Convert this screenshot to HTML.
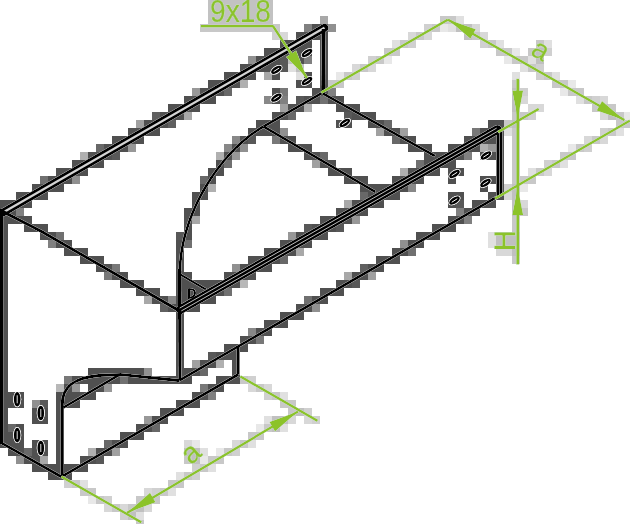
<!DOCTYPE html>
<html><head><meta charset="utf-8"><style>
html,body{margin:0;padding:0;background:#fff;width:630px;height:524px;overflow:hidden;font-family:"Liberation Sans",sans-serif}
svg{display:block}
</style></head><body><svg width="630" height="524" viewBox="0 0 630 524"><rect width="630" height="524" fill="#fff"/><defs><filter id="wo" x="-5%" y="-5%" width="110%" height="110%"><feMorphology operator="dilate" radius="0.3" in="SourceAlpha" result="d"/><feFlood flood-color="#fff"/><feComposite in2="d" operator="in"/><feMerge><feMergeNode/><feMergeNode in="SourceGraphic"/></feMerge></filter></defs><rect x="208" y="0" width="8" height="8" fill="rgb(200,200,200)"/><rect x="216" y="0" width="8" height="8" fill="rgb(192,192,192)"/><rect x="224" y="0" width="16" height="8" fill="rgb(208,208,208)"/><rect x="240" y="0" width="8" height="8" fill="rgb(192,192,192)"/><rect x="248" y="0" width="8" height="8" fill="rgb(208,208,208)"/><rect x="256" y="0" width="16" height="8" fill="rgb(192,192,192)"/><rect x="208" y="8" width="8" height="8" fill="rgb(200,200,200)"/><rect x="216" y="8" width="8" height="8" fill="rgb(192,192,192)"/><rect x="224" y="8" width="8" height="8" fill="rgb(200,200,200)"/><rect x="232" y="8" width="8" height="8" fill="rgb(192,192,192)"/><rect x="240" y="8" width="16" height="8" fill="rgb(208,208,208)"/><rect x="256" y="8" width="16" height="8" fill="rgb(192,192,192)"/><rect x="208" y="16" width="8" height="8" fill="rgb(208,208,208)"/><rect x="216" y="16" width="8" height="8" fill="rgb(192,192,192)"/><rect x="224" y="16" width="24" height="8" fill="rgb(200,200,200)"/><rect x="248" y="16" width="16" height="8" fill="rgb(192,192,192)"/><rect x="264" y="16" width="8" height="8" fill="rgb(200,200,200)"/><rect x="320" y="16" width="8" height="8" fill="rgb(168,168,168)"/><rect x="440" y="16" width="16" height="8" fill="rgb(200,200,200)"/><rect x="456" y="16" width="8" height="8" fill="rgb(224,224,224)"/><rect x="200" y="24" width="80" height="8" fill="rgb(200,200,200)"/><rect x="304" y="24" width="8" height="8" fill="rgb(128,128,128)"/><rect x="312" y="24" width="16" height="8" fill="rgb(80,80,80)"/><rect x="328" y="24" width="8" height="8" fill="rgb(144,144,144)"/><rect x="424" y="24" width="8" height="8" fill="rgb(208,208,208)"/><rect x="432" y="24" width="8" height="8" fill="rgb(200,200,200)"/><rect x="440" y="24" width="8" height="8" fill="rgb(232,232,232)"/><rect x="448" y="24" width="8" height="8" fill="rgb(224,224,224)"/><rect x="456" y="24" width="16" height="8" fill="rgb(192,192,192)"/><rect x="472" y="24" width="8" height="8" fill="rgb(216,216,216)"/><rect x="272" y="32" width="8" height="8" fill="rgb(208,208,208)"/><rect x="280" y="32" width="8" height="8" fill="rgb(216,216,216)"/><rect x="296" y="32" width="32" height="8" fill="rgb(80,80,80)"/><rect x="408" y="32" width="8" height="8" fill="rgb(216,216,216)"/><rect x="416" y="32" width="8" height="8" fill="rgb(200,200,200)"/><rect x="424" y="32" width="8" height="8" fill="rgb(216,216,216)"/><rect x="464" y="32" width="8" height="8" fill="rgb(192,192,192)"/><rect x="472" y="32" width="8" height="8" fill="rgb(200,200,200)"/><rect x="480" y="32" width="8" height="8" fill="rgb(216,216,216)"/><rect x="280" y="40" width="32" height="8" fill="rgb(80,80,80)"/><rect x="320" y="40" width="8" height="8" fill="rgb(80,80,80)"/><rect x="392" y="40" width="8" height="8" fill="rgb(224,224,224)"/><rect x="400" y="40" width="8" height="8" fill="rgb(200,200,200)"/><rect x="408" y="40" width="8" height="8" fill="rgb(208,208,208)"/><rect x="480" y="40" width="8" height="8" fill="rgb(208,208,208)"/><rect x="488" y="40" width="8" height="8" fill="rgb(200,200,200)"/><rect x="496" y="40" width="8" height="8" fill="rgb(224,224,224)"/><rect x="536" y="40" width="8" height="8" fill="rgb(200,200,200)"/><rect x="544" y="40" width="8" height="8" fill="rgb(224,224,224)"/><rect x="264" y="48" width="48" height="8" fill="rgb(80,80,80)"/><rect x="320" y="48" width="8" height="8" fill="rgb(80,80,80)"/><rect x="384" y="48" width="16" height="8" fill="rgb(200,200,200)"/><rect x="496" y="48" width="16" height="8" fill="rgb(200,200,200)"/><rect x="512" y="48" width="8" height="8" fill="rgb(232,232,232)"/><rect x="528" y="48" width="8" height="8" fill="rgb(200,200,200)"/><rect x="536" y="48" width="8" height="8" fill="rgb(192,192,192)"/><rect x="544" y="48" width="8" height="8" fill="rgb(208,208,208)"/><rect x="248" y="56" width="8" height="8" fill="rgb(144,144,144)"/><rect x="256" y="56" width="24" height="8" fill="rgb(80,80,80)"/><rect x="280" y="56" width="8" height="8" fill="rgb(88,88,88)"/><rect x="288" y="56" width="8" height="8" fill="rgb(192,192,192)"/><rect x="296" y="56" width="8" height="8" fill="rgb(80,80,80)"/><rect x="304" y="56" width="8" height="8" fill="rgb(128,128,128)"/><rect x="320" y="56" width="8" height="8" fill="rgb(80,80,80)"/><rect x="368" y="56" width="8" height="8" fill="rgb(208,208,208)"/><rect x="376" y="56" width="8" height="8" fill="rgb(200,200,200)"/><rect x="384" y="56" width="8" height="8" fill="rgb(232,232,232)"/><rect x="504" y="56" width="8" height="8" fill="rgb(232,232,232)"/><rect x="512" y="56" width="16" height="8" fill="rgb(200,200,200)"/><rect x="528" y="56" width="8" height="8" fill="rgb(224,224,224)"/><rect x="536" y="56" width="8" height="8" fill="rgb(192,192,192)"/><rect x="240" y="64" width="40" height="8" fill="rgb(80,80,80)"/><rect x="280" y="64" width="8" height="8" fill="rgb(88,88,88)"/><rect x="288" y="64" width="8" height="8" fill="rgb(224,224,224)"/><rect x="296" y="64" width="8" height="8" fill="rgb(192,192,192)"/><rect x="320" y="64" width="8" height="8" fill="rgb(80,80,80)"/><rect x="352" y="64" width="8" height="8" fill="rgb(216,216,216)"/><rect x="360" y="64" width="8" height="8" fill="rgb(200,200,200)"/><rect x="368" y="64" width="8" height="8" fill="rgb(216,216,216)"/><rect x="520" y="64" width="8" height="8" fill="rgb(224,224,224)"/><rect x="528" y="64" width="8" height="8" fill="rgb(200,200,200)"/><rect x="536" y="64" width="8" height="8" fill="rgb(208,208,208)"/><rect x="224" y="72" width="32" height="8" fill="rgb(80,80,80)"/><rect x="264" y="72" width="8" height="8" fill="rgb(168,168,168)"/><rect x="272" y="72" width="8" height="8" fill="rgb(80,80,80)"/><rect x="296" y="72" width="8" height="8" fill="rgb(224,224,224)"/><rect x="304" y="72" width="8" height="8" fill="rgb(80,80,80)"/><rect x="320" y="72" width="8" height="8" fill="rgb(80,80,80)"/><rect x="336" y="72" width="8" height="8" fill="rgb(232,232,232)"/><rect x="344" y="72" width="8" height="8" fill="rgb(200,200,200)"/><rect x="352" y="72" width="8" height="8" fill="rgb(208,208,208)"/><rect x="512" y="72" width="8" height="8" fill="rgb(224,224,224)"/><rect x="536" y="72" width="8" height="8" fill="rgb(208,208,208)"/><rect x="544" y="72" width="8" height="8" fill="rgb(200,200,200)"/><rect x="552" y="72" width="8" height="8" fill="rgb(224,224,224)"/><rect x="208" y="80" width="32" height="8" fill="rgb(80,80,80)"/><rect x="240" y="80" width="8" height="8" fill="rgb(176,176,176)"/><rect x="296" y="80" width="16" height="8" fill="rgb(80,80,80)"/><rect x="320" y="80" width="8" height="8" fill="rgb(80,80,80)"/><rect x="328" y="80" width="16" height="8" fill="rgb(200,200,200)"/><rect x="512" y="80" width="8" height="8" fill="rgb(200,200,200)"/><rect x="552" y="80" width="16" height="8" fill="rgb(200,200,200)"/><rect x="568" y="80" width="8" height="8" fill="rgb(232,232,232)"/><rect x="192" y="88" width="8" height="8" fill="rgb(152,152,152)"/><rect x="200" y="88" width="24" height="8" fill="rgb(80,80,80)"/><rect x="224" y="88" width="8" height="8" fill="rgb(104,104,104)"/><rect x="272" y="88" width="8" height="8" fill="rgb(80,80,80)"/><rect x="280" y="88" width="8" height="8" fill="rgb(120,120,120)"/><rect x="312" y="88" width="16" height="8" fill="rgb(80,80,80)"/><rect x="328" y="88" width="8" height="8" fill="rgb(128,128,128)"/><rect x="512" y="88" width="8" height="8" fill="rgb(192,192,192)"/><rect x="520" y="88" width="8" height="8" fill="rgb(208,208,208)"/><rect x="560" y="88" width="8" height="8" fill="rgb(232,232,232)"/><rect x="568" y="88" width="16" height="8" fill="rgb(200,200,200)"/><rect x="184" y="96" width="32" height="8" fill="rgb(80,80,80)"/><rect x="264" y="96" width="8" height="8" fill="rgb(136,136,136)"/><rect x="272" y="96" width="8" height="8" fill="rgb(80,80,80)"/><rect x="280" y="96" width="8" height="8" fill="rgb(128,128,128)"/><rect x="296" y="96" width="8" height="8" fill="rgb(88,88,88)"/><rect x="304" y="96" width="16" height="8" fill="rgb(80,80,80)"/><rect x="320" y="96" width="8" height="8" fill="rgb(112,112,112)"/><rect x="328" y="96" width="16" height="8" fill="rgb(80,80,80)"/><rect x="512" y="96" width="8" height="8" fill="rgb(192,192,192)"/><rect x="520" y="96" width="8" height="8" fill="rgb(216,216,216)"/><rect x="576" y="96" width="8" height="8" fill="rgb(224,224,224)"/><rect x="584" y="96" width="8" height="8" fill="rgb(200,200,200)"/><rect x="592" y="96" width="8" height="8" fill="rgb(208,208,208)"/><rect x="600" y="96" width="8" height="8" fill="rgb(216,216,216)"/><rect x="168" y="104" width="32" height="8" fill="rgb(80,80,80)"/><rect x="280" y="104" width="8" height="8" fill="rgb(160,160,160)"/><rect x="288" y="104" width="16" height="8" fill="rgb(80,80,80)"/><rect x="304" y="104" width="8" height="8" fill="rgb(176,176,176)"/><rect x="336" y="104" width="24" height="8" fill="rgb(80,80,80)"/><rect x="512" y="104" width="8" height="8" fill="rgb(192,192,192)"/><rect x="528" y="104" width="16" height="8" fill="rgb(216,216,216)"/><rect x="592" y="104" width="8" height="8" fill="rgb(200,200,200)"/><rect x="600" y="104" width="8" height="8" fill="rgb(192,192,192)"/><rect x="608" y="104" width="8" height="8" fill="rgb(200,200,200)"/><rect x="152" y="112" width="8" height="8" fill="rgb(96,96,96)"/><rect x="160" y="112" width="24" height="8" fill="rgb(80,80,80)"/><rect x="184" y="112" width="8" height="8" fill="rgb(168,168,168)"/><rect x="272" y="112" width="16" height="8" fill="rgb(80,80,80)"/><rect x="288" y="112" width="8" height="8" fill="rgb(104,104,104)"/><rect x="344" y="112" width="8" height="8" fill="rgb(88,88,88)"/><rect x="352" y="112" width="24" height="8" fill="rgb(80,80,80)"/><rect x="512" y="112" width="16" height="8" fill="rgb(200,200,200)"/><rect x="528" y="112" width="8" height="8" fill="rgb(208,208,208)"/><rect x="600" y="112" width="8" height="8" fill="rgb(216,216,216)"/><rect x="608" y="112" width="8" height="8" fill="rgb(192,192,192)"/><rect x="616" y="112" width="8" height="8" fill="rgb(200,200,200)"/><rect x="624" y="112" width="8" height="8" fill="rgb(232,232,232)"/><rect x="136" y="120" width="8" height="8" fill="rgb(160,160,160)"/><rect x="144" y="120" width="24" height="8" fill="rgb(80,80,80)"/><rect x="168" y="120" width="8" height="8" fill="rgb(96,96,96)"/><rect x="256" y="120" width="24" height="8" fill="rgb(80,80,80)"/><rect x="336" y="120" width="16" height="8" fill="rgb(80,80,80)"/><rect x="368" y="120" width="16" height="8" fill="rgb(80,80,80)"/><rect x="384" y="120" width="8" height="8" fill="rgb(104,104,104)"/><rect x="488" y="120" width="16" height="8" fill="rgb(80,80,80)"/><rect x="504" y="120" width="8" height="8" fill="rgb(200,200,200)"/><rect x="512" y="120" width="8" height="8" fill="rgb(192,192,192)"/><rect x="616" y="120" width="16" height="8" fill="rgb(200,200,200)"/><rect x="128" y="128" width="32" height="8" fill="rgb(80,80,80)"/><rect x="248" y="128" width="32" height="8" fill="rgb(80,80,80)"/><rect x="280" y="128" width="8" height="8" fill="rgb(144,144,144)"/><rect x="376" y="128" width="8" height="8" fill="rgb(160,160,160)"/><rect x="384" y="128" width="16" height="8" fill="rgb(80,80,80)"/><rect x="400" y="128" width="8" height="8" fill="rgb(160,160,160)"/><rect x="472" y="128" width="8" height="8" fill="rgb(120,120,120)"/><rect x="480" y="128" width="24" height="8" fill="rgb(80,80,80)"/><rect x="504" y="128" width="8" height="8" fill="rgb(224,224,224)"/><rect x="512" y="128" width="8" height="8" fill="rgb(200,200,200)"/><rect x="600" y="128" width="8" height="8" fill="rgb(208,208,208)"/><rect x="608" y="128" width="8" height="8" fill="rgb(200,200,200)"/><rect x="616" y="128" width="8" height="8" fill="rgb(224,224,224)"/><rect x="112" y="136" width="32" height="8" fill="rgb(80,80,80)"/><rect x="232" y="136" width="8" height="8" fill="rgb(136,136,136)"/><rect x="240" y="136" width="8" height="8" fill="rgb(80,80,80)"/><rect x="248" y="136" width="8" height="8" fill="rgb(88,88,88)"/><rect x="272" y="136" width="8" height="8" fill="rgb(120,120,120)"/><rect x="280" y="136" width="16" height="8" fill="rgb(80,80,80)"/><rect x="392" y="136" width="8" height="8" fill="rgb(104,104,104)"/><rect x="400" y="136" width="16" height="8" fill="rgb(80,80,80)"/><rect x="464" y="136" width="40" height="8" fill="rgb(80,80,80)"/><rect x="512" y="136" width="8" height="8" fill="rgb(200,200,200)"/><rect x="584" y="136" width="8" height="8" fill="rgb(216,216,216)"/><rect x="592" y="136" width="8" height="8" fill="rgb(200,200,200)"/><rect x="600" y="136" width="8" height="8" fill="rgb(216,216,216)"/><rect x="96" y="144" width="8" height="8" fill="rgb(104,104,104)"/><rect x="104" y="144" width="24" height="8" fill="rgb(80,80,80)"/><rect x="128" y="144" width="8" height="8" fill="rgb(152,152,152)"/><rect x="224" y="144" width="8" height="8" fill="rgb(136,136,136)"/><rect x="232" y="144" width="8" height="8" fill="rgb(80,80,80)"/><rect x="240" y="144" width="8" height="8" fill="rgb(144,144,144)"/><rect x="288" y="144" width="24" height="8" fill="rgb(80,80,80)"/><rect x="408" y="144" width="24" height="8" fill="rgb(80,80,80)"/><rect x="448" y="144" width="32" height="8" fill="rgb(80,80,80)"/><rect x="480" y="144" width="8" height="8" fill="rgb(176,176,176)"/><rect x="488" y="144" width="8" height="8" fill="rgb(152,152,152)"/><rect x="496" y="144" width="8" height="8" fill="rgb(80,80,80)"/><rect x="512" y="144" width="8" height="8" fill="rgb(200,200,200)"/><rect x="568" y="144" width="8" height="8" fill="rgb(232,232,232)"/><rect x="576" y="144" width="8" height="8" fill="rgb(200,200,200)"/><rect x="584" y="144" width="8" height="8" fill="rgb(208,208,208)"/><rect x="80" y="152" width="8" height="8" fill="rgb(176,176,176)"/><rect x="88" y="152" width="24" height="8" fill="rgb(80,80,80)"/><rect x="112" y="152" width="8" height="8" fill="rgb(88,88,88)"/><rect x="216" y="152" width="8" height="8" fill="rgb(176,176,176)"/><rect x="224" y="152" width="8" height="8" fill="rgb(80,80,80)"/><rect x="232" y="152" width="8" height="8" fill="rgb(152,152,152)"/><rect x="304" y="152" width="16" height="8" fill="rgb(80,80,80)"/><rect x="320" y="152" width="8" height="8" fill="rgb(104,104,104)"/><rect x="424" y="152" width="40" height="8" fill="rgb(80,80,80)"/><rect x="464" y="152" width="8" height="8" fill="rgb(128,128,128)"/><rect x="480" y="152" width="24" height="8" fill="rgb(80,80,80)"/><rect x="512" y="152" width="8" height="8" fill="rgb(200,200,200)"/><rect x="560" y="152" width="16" height="8" fill="rgb(200,200,200)"/><rect x="72" y="160" width="32" height="8" fill="rgb(80,80,80)"/><rect x="216" y="160" width="8" height="8" fill="rgb(80,80,80)"/><rect x="224" y="160" width="8" height="8" fill="rgb(112,112,112)"/><rect x="312" y="160" width="8" height="8" fill="rgb(160,160,160)"/><rect x="320" y="160" width="16" height="8" fill="rgb(80,80,80)"/><rect x="416" y="160" width="8" height="8" fill="rgb(112,112,112)"/><rect x="424" y="160" width="32" height="8" fill="rgb(80,80,80)"/><rect x="496" y="160" width="8" height="8" fill="rgb(80,80,80)"/><rect x="512" y="160" width="8" height="8" fill="rgb(200,200,200)"/><rect x="544" y="160" width="8" height="8" fill="rgb(208,208,208)"/><rect x="552" y="160" width="8" height="8" fill="rgb(200,200,200)"/><rect x="560" y="160" width="8" height="8" fill="rgb(224,224,224)"/><rect x="56" y="168" width="32" height="8" fill="rgb(80,80,80)"/><rect x="208" y="168" width="16" height="8" fill="rgb(80,80,80)"/><rect x="328" y="168" width="24" height="8" fill="rgb(80,80,80)"/><rect x="400" y="168" width="8" height="8" fill="rgb(176,176,176)"/><rect x="408" y="168" width="32" height="8" fill="rgb(80,80,80)"/><rect x="448" y="168" width="16" height="8" fill="rgb(80,80,80)"/><rect x="496" y="168" width="8" height="8" fill="rgb(80,80,80)"/><rect x="512" y="168" width="8" height="8" fill="rgb(200,200,200)"/><rect x="528" y="168" width="8" height="8" fill="rgb(224,224,224)"/><rect x="536" y="168" width="8" height="8" fill="rgb(200,200,200)"/><rect x="544" y="168" width="8" height="8" fill="rgb(216,216,216)"/><rect x="40" y="176" width="8" height="8" fill="rgb(112,112,112)"/><rect x="48" y="176" width="24" height="8" fill="rgb(80,80,80)"/><rect x="72" y="176" width="8" height="8" fill="rgb(144,144,144)"/><rect x="200" y="176" width="8" height="8" fill="rgb(104,104,104)"/><rect x="208" y="176" width="8" height="8" fill="rgb(80,80,80)"/><rect x="344" y="176" width="24" height="8" fill="rgb(80,80,80)"/><rect x="392" y="176" width="32" height="8" fill="rgb(80,80,80)"/><rect x="448" y="176" width="8" height="8" fill="rgb(80,80,80)"/><rect x="480" y="176" width="24" height="8" fill="rgb(80,80,80)"/><rect x="512" y="176" width="24" height="8" fill="rgb(200,200,200)"/><rect x="32" y="184" width="32" height="8" fill="rgb(80,80,80)"/><rect x="200" y="184" width="8" height="8" fill="rgb(80,80,80)"/><rect x="208" y="184" width="8" height="8" fill="rgb(176,176,176)"/><rect x="360" y="184" width="48" height="8" fill="rgb(80,80,80)"/><rect x="408" y="184" width="8" height="8" fill="rgb(136,136,136)"/><rect x="480" y="184" width="8" height="8" fill="rgb(80,80,80)"/><rect x="496" y="184" width="8" height="8" fill="rgb(80,80,80)"/><rect x="504" y="184" width="8" height="8" fill="rgb(208,208,208)"/><rect x="512" y="184" width="8" height="8" fill="rgb(192,192,192)"/><rect x="520" y="184" width="8" height="8" fill="rgb(232,232,232)"/><rect x="16" y="192" width="32" height="8" fill="rgb(80,80,80)"/><rect x="192" y="192" width="16" height="8" fill="rgb(80,80,80)"/><rect x="360" y="192" width="8" height="8" fill="rgb(104,104,104)"/><rect x="368" y="192" width="32" height="8" fill="rgb(80,80,80)"/><rect x="448" y="192" width="16" height="8" fill="rgb(80,80,80)"/><rect x="488" y="192" width="16" height="8" fill="rgb(80,80,80)"/><rect x="504" y="192" width="8" height="8" fill="rgb(216,216,216)"/><rect x="512" y="192" width="8" height="8" fill="rgb(192,192,192)"/><rect x="0" y="200" width="32" height="8" fill="rgb(80,80,80)"/><rect x="192" y="200" width="8" height="8" fill="rgb(80,80,80)"/><rect x="344" y="200" width="8" height="8" fill="rgb(168,168,168)"/><rect x="352" y="200" width="32" height="8" fill="rgb(80,80,80)"/><rect x="448" y="200" width="8" height="8" fill="rgb(80,80,80)"/><rect x="456" y="200" width="8" height="8" fill="rgb(88,88,88)"/><rect x="472" y="200" width="24" height="8" fill="rgb(80,80,80)"/><rect x="512" y="200" width="8" height="8" fill="rgb(192,192,192)"/><rect x="520" y="200" width="8" height="8" fill="rgb(216,216,216)"/><rect x="0" y="208" width="16" height="8" fill="rgb(80,80,80)"/><rect x="16" y="208" width="8" height="8" fill="rgb(128,128,128)"/><rect x="184" y="208" width="16" height="8" fill="rgb(80,80,80)"/><rect x="336" y="208" width="32" height="8" fill="rgb(80,80,80)"/><rect x="456" y="208" width="8" height="8" fill="rgb(128,128,128)"/><rect x="464" y="208" width="16" height="8" fill="rgb(80,80,80)"/><rect x="512" y="208" width="8" height="8" fill="rgb(192,192,192)"/><rect x="520" y="208" width="8" height="8" fill="rgb(200,200,200)"/><rect x="0" y="216" width="32" height="8" fill="rgb(80,80,80)"/><rect x="184" y="216" width="8" height="8" fill="rgb(80,80,80)"/><rect x="192" y="216" width="8" height="8" fill="rgb(168,168,168)"/><rect x="320" y="216" width="32" height="8" fill="rgb(80,80,80)"/><rect x="352" y="216" width="8" height="8" fill="rgb(152,152,152)"/><rect x="448" y="216" width="16" height="8" fill="rgb(80,80,80)"/><rect x="464" y="216" width="8" height="8" fill="rgb(128,128,128)"/><rect x="512" y="216" width="8" height="8" fill="rgb(200,200,200)"/><rect x="0" y="224" width="8" height="8" fill="rgb(80,80,80)"/><rect x="24" y="224" width="24" height="8" fill="rgb(80,80,80)"/><rect x="184" y="224" width="8" height="8" fill="rgb(80,80,80)"/><rect x="304" y="224" width="8" height="8" fill="rgb(88,88,88)"/><rect x="312" y="224" width="24" height="8" fill="rgb(80,80,80)"/><rect x="336" y="224" width="8" height="8" fill="rgb(88,88,88)"/><rect x="432" y="224" width="24" height="8" fill="rgb(80,80,80)"/><rect x="512" y="224" width="8" height="8" fill="rgb(200,200,200)"/><rect x="0" y="232" width="8" height="8" fill="rgb(80,80,80)"/><rect x="40" y="232" width="16" height="8" fill="rgb(80,80,80)"/><rect x="56" y="232" width="8" height="8" fill="rgb(112,112,112)"/><rect x="176" y="232" width="8" height="8" fill="rgb(88,88,88)"/><rect x="184" y="232" width="8" height="8" fill="rgb(80,80,80)"/><rect x="288" y="232" width="8" height="8" fill="rgb(152,152,152)"/><rect x="296" y="232" width="32" height="8" fill="rgb(80,80,80)"/><rect x="416" y="232" width="24" height="8" fill="rgb(80,80,80)"/><rect x="488" y="232" width="8" height="8" fill="rgb(224,224,224)"/><rect x="496" y="232" width="24" height="8" fill="rgb(192,192,192)"/><rect x="0" y="240" width="8" height="8" fill="rgb(80,80,80)"/><rect x="48" y="240" width="8" height="8" fill="rgb(128,128,128)"/><rect x="56" y="240" width="16" height="8" fill="rgb(80,80,80)"/><rect x="176" y="240" width="8" height="8" fill="rgb(80,80,80)"/><rect x="184" y="240" width="8" height="8" fill="rgb(112,112,112)"/><rect x="280" y="240" width="32" height="8" fill="rgb(80,80,80)"/><rect x="400" y="240" width="8" height="8" fill="rgb(144,144,144)"/><rect x="408" y="240" width="16" height="8" fill="rgb(80,80,80)"/><rect x="488" y="240" width="8" height="8" fill="rgb(224,224,224)"/><rect x="496" y="240" width="24" height="8" fill="rgb(192,192,192)"/><rect x="0" y="248" width="8" height="8" fill="rgb(80,80,80)"/><rect x="64" y="248" width="24" height="8" fill="rgb(80,80,80)"/><rect x="176" y="248" width="8" height="8" fill="rgb(80,80,80)"/><rect x="264" y="248" width="32" height="8" fill="rgb(80,80,80)"/><rect x="296" y="248" width="8" height="8" fill="rgb(168,168,168)"/><rect x="392" y="248" width="16" height="8" fill="rgb(80,80,80)"/><rect x="408" y="248" width="8" height="8" fill="rgb(112,112,112)"/><rect x="496" y="248" width="16" height="8" fill="rgb(216,216,216)"/><rect x="512" y="248" width="8" height="8" fill="rgb(192,192,192)"/><rect x="0" y="256" width="8" height="8" fill="rgb(80,80,80)"/><rect x="80" y="256" width="24" height="8" fill="rgb(80,80,80)"/><rect x="176" y="256" width="8" height="8" fill="rgb(80,80,80)"/><rect x="248" y="256" width="32" height="8" fill="rgb(80,80,80)"/><rect x="280" y="256" width="8" height="8" fill="rgb(104,104,104)"/><rect x="376" y="256" width="24" height="8" fill="rgb(80,80,80)"/><rect x="512" y="256" width="8" height="8" fill="rgb(200,200,200)"/><rect x="0" y="264" width="8" height="8" fill="rgb(80,80,80)"/><rect x="96" y="264" width="16" height="8" fill="rgb(80,80,80)"/><rect x="112" y="264" width="8" height="8" fill="rgb(120,120,120)"/><rect x="176" y="264" width="8" height="8" fill="rgb(80,80,80)"/><rect x="232" y="264" width="8" height="8" fill="rgb(144,144,144)"/><rect x="240" y="264" width="32" height="8" fill="rgb(80,80,80)"/><rect x="360" y="264" width="8" height="8" fill="rgb(96,96,96)"/><rect x="368" y="264" width="16" height="8" fill="rgb(80,80,80)"/><rect x="0" y="272" width="8" height="8" fill="rgb(80,80,80)"/><rect x="104" y="272" width="8" height="8" fill="rgb(120,120,120)"/><rect x="112" y="272" width="16" height="8" fill="rgb(80,80,80)"/><rect x="176" y="272" width="16" height="8" fill="rgb(80,80,80)"/><rect x="224" y="272" width="32" height="8" fill="rgb(80,80,80)"/><rect x="344" y="272" width="8" height="8" fill="rgb(168,168,168)"/><rect x="352" y="272" width="16" height="8" fill="rgb(80,80,80)"/><rect x="368" y="272" width="8" height="8" fill="rgb(160,160,160)"/><rect x="0" y="280" width="8" height="8" fill="rgb(80,80,80)"/><rect x="120" y="280" width="24" height="8" fill="rgb(80,80,80)"/><rect x="176" y="280" width="64" height="8" fill="rgb(80,80,80)"/><rect x="240" y="280" width="8" height="8" fill="rgb(184,184,184)"/><rect x="336" y="280" width="16" height="8" fill="rgb(80,80,80)"/><rect x="352" y="280" width="8" height="8" fill="rgb(88,88,88)"/><rect x="0" y="288" width="8" height="8" fill="rgb(80,80,80)"/><rect x="136" y="288" width="24" height="8" fill="rgb(80,80,80)"/><rect x="176" y="288" width="48" height="8" fill="rgb(80,80,80)"/><rect x="224" y="288" width="8" height="8" fill="rgb(112,112,112)"/><rect x="320" y="288" width="24" height="8" fill="rgb(80,80,80)"/><rect x="0" y="296" width="8" height="8" fill="rgb(80,80,80)"/><rect x="144" y="296" width="8" height="8" fill="rgb(168,168,168)"/><rect x="152" y="296" width="16" height="8" fill="rgb(80,80,80)"/><rect x="168" y="296" width="8" height="8" fill="rgb(136,136,136)"/><rect x="176" y="296" width="40" height="8" fill="rgb(80,80,80)"/><rect x="304" y="296" width="8" height="8" fill="rgb(112,112,112)"/><rect x="312" y="296" width="16" height="8" fill="rgb(80,80,80)"/><rect x="0" y="304" width="8" height="8" fill="rgb(80,80,80)"/><rect x="160" y="304" width="8" height="8" fill="rgb(96,96,96)"/><rect x="168" y="304" width="32" height="8" fill="rgb(80,80,80)"/><rect x="296" y="304" width="16" height="8" fill="rgb(80,80,80)"/><rect x="312" y="304" width="8" height="8" fill="rgb(144,144,144)"/><rect x="0" y="312" width="8" height="8" fill="rgb(80,80,80)"/><rect x="176" y="312" width="8" height="8" fill="rgb(80,80,80)"/><rect x="280" y="312" width="24" height="8" fill="rgb(80,80,80)"/><rect x="0" y="320" width="8" height="8" fill="rgb(80,80,80)"/><rect x="176" y="320" width="8" height="8" fill="rgb(80,80,80)"/><rect x="264" y="320" width="24" height="8" fill="rgb(80,80,80)"/><rect x="0" y="328" width="8" height="8" fill="rgb(80,80,80)"/><rect x="176" y="328" width="8" height="8" fill="rgb(80,80,80)"/><rect x="248" y="328" width="8" height="8" fill="rgb(136,136,136)"/><rect x="256" y="328" width="16" height="8" fill="rgb(80,80,80)"/><rect x="0" y="336" width="8" height="8" fill="rgb(80,80,80)"/><rect x="176" y="336" width="8" height="8" fill="rgb(80,80,80)"/><rect x="240" y="336" width="16" height="8" fill="rgb(80,80,80)"/><rect x="256" y="336" width="8" height="8" fill="rgb(120,120,120)"/><rect x="0" y="344" width="8" height="8" fill="rgb(80,80,80)"/><rect x="176" y="344" width="8" height="8" fill="rgb(80,80,80)"/><rect x="224" y="344" width="24" height="8" fill="rgb(80,80,80)"/><rect x="0" y="352" width="8" height="8" fill="rgb(80,80,80)"/><rect x="176" y="352" width="8" height="8" fill="rgb(80,80,80)"/><rect x="208" y="352" width="8" height="8" fill="rgb(88,88,88)"/><rect x="216" y="352" width="24" height="8" fill="rgb(80,80,80)"/><rect x="0" y="360" width="8" height="8" fill="rgb(80,80,80)"/><rect x="176" y="360" width="8" height="8" fill="rgb(80,80,80)"/><rect x="192" y="360" width="8" height="8" fill="rgb(160,160,160)"/><rect x="200" y="360" width="16" height="8" fill="rgb(80,80,80)"/><rect x="216" y="360" width="8" height="8" fill="rgb(176,176,176)"/><rect x="232" y="360" width="8" height="8" fill="rgb(80,80,80)"/><rect x="0" y="368" width="8" height="8" fill="rgb(80,80,80)"/><rect x="88" y="368" width="56" height="8" fill="rgb(80,80,80)"/><rect x="144" y="368" width="8" height="8" fill="rgb(144,144,144)"/><rect x="176" y="368" width="24" height="8" fill="rgb(80,80,80)"/><rect x="200" y="368" width="8" height="8" fill="rgb(104,104,104)"/><rect x="232" y="368" width="8" height="8" fill="rgb(80,80,80)"/><rect x="0" y="376" width="8" height="8" fill="rgb(80,80,80)"/><rect x="64" y="376" width="8" height="8" fill="rgb(120,120,120)"/><rect x="72" y="376" width="48" height="8" fill="rgb(80,80,80)"/><rect x="120" y="376" width="8" height="8" fill="rgb(112,112,112)"/><rect x="128" y="376" width="64" height="8" fill="rgb(80,80,80)"/><rect x="216" y="376" width="24" height="8" fill="rgb(80,80,80)"/><rect x="240" y="376" width="8" height="8" fill="rgb(200,200,200)"/><rect x="248" y="376" width="8" height="8" fill="rgb(208,208,208)"/><rect x="0" y="384" width="8" height="8" fill="rgb(80,80,80)"/><rect x="56" y="384" width="8" height="8" fill="rgb(184,184,184)"/><rect x="64" y="384" width="8" height="8" fill="rgb(80,80,80)"/><rect x="72" y="384" width="8" height="8" fill="rgb(152,152,152)"/><rect x="88" y="384" width="16" height="8" fill="rgb(80,80,80)"/><rect x="104" y="384" width="8" height="8" fill="rgb(152,152,152)"/><rect x="200" y="384" width="8" height="8" fill="rgb(120,120,120)"/><rect x="208" y="384" width="16" height="8" fill="rgb(80,80,80)"/><rect x="248" y="384" width="8" height="8" fill="rgb(216,216,216)"/><rect x="256" y="384" width="8" height="8" fill="rgb(200,200,200)"/><rect x="264" y="384" width="8" height="8" fill="rgb(216,216,216)"/><rect x="0" y="392" width="24" height="8" fill="rgb(80,80,80)"/><rect x="56" y="392" width="40" height="8" fill="rgb(80,80,80)"/><rect x="192" y="392" width="16" height="8" fill="rgb(80,80,80)"/><rect x="208" y="392" width="8" height="8" fill="rgb(128,128,128)"/><rect x="264" y="392" width="8" height="8" fill="rgb(208,208,208)"/><rect x="272" y="392" width="8" height="8" fill="rgb(200,200,200)"/><rect x="280" y="392" width="8" height="8" fill="rgb(224,224,224)"/><rect x="0" y="400" width="24" height="8" fill="rgb(80,80,80)"/><rect x="32" y="400" width="8" height="8" fill="rgb(144,144,144)"/><rect x="40" y="400" width="8" height="8" fill="rgb(88,88,88)"/><rect x="56" y="400" width="24" height="8" fill="rgb(80,80,80)"/><rect x="176" y="400" width="24" height="8" fill="rgb(80,80,80)"/><rect x="280" y="400" width="16" height="8" fill="rgb(200,200,200)"/><rect x="0" y="408" width="8" height="8" fill="rgb(80,80,80)"/><rect x="32" y="408" width="16" height="8" fill="rgb(80,80,80)"/><rect x="56" y="408" width="8" height="8" fill="rgb(80,80,80)"/><rect x="160" y="408" width="24" height="8" fill="rgb(80,80,80)"/><rect x="288" y="408" width="8" height="8" fill="rgb(200,200,200)"/><rect x="296" y="408" width="8" height="8" fill="rgb(192,192,192)"/><rect x="304" y="408" width="8" height="8" fill="rgb(208,208,208)"/><rect x="0" y="416" width="8" height="8" fill="rgb(80,80,80)"/><rect x="32" y="416" width="16" height="8" fill="rgb(80,80,80)"/><rect x="56" y="416" width="8" height="8" fill="rgb(80,80,80)"/><rect x="144" y="416" width="8" height="8" fill="rgb(152,152,152)"/><rect x="152" y="416" width="16" height="8" fill="rgb(80,80,80)"/><rect x="264" y="416" width="8" height="8" fill="rgb(224,224,224)"/><rect x="272" y="416" width="16" height="8" fill="rgb(192,192,192)"/><rect x="288" y="416" width="8" height="8" fill="rgb(216,216,216)"/><rect x="304" y="416" width="8" height="8" fill="rgb(216,216,216)"/><rect x="312" y="416" width="8" height="8" fill="rgb(208,208,208)"/><rect x="0" y="424" width="8" height="8" fill="rgb(80,80,80)"/><rect x="8" y="424" width="8" height="8" fill="rgb(104,104,104)"/><rect x="16" y="424" width="8" height="8" fill="rgb(80,80,80)"/><rect x="56" y="424" width="8" height="8" fill="rgb(80,80,80)"/><rect x="136" y="424" width="16" height="8" fill="rgb(80,80,80)"/><rect x="152" y="424" width="8" height="8" fill="rgb(104,104,104)"/><rect x="256" y="424" width="8" height="8" fill="rgb(232,232,232)"/><rect x="264" y="424" width="8" height="8" fill="rgb(200,200,200)"/><rect x="272" y="424" width="8" height="8" fill="rgb(192,192,192)"/><rect x="280" y="424" width="8" height="8" fill="rgb(224,224,224)"/><rect x="0" y="432" width="24" height="8" fill="rgb(80,80,80)"/><rect x="56" y="432" width="8" height="8" fill="rgb(80,80,80)"/><rect x="120" y="432" width="24" height="8" fill="rgb(80,80,80)"/><rect x="248" y="432" width="16" height="8" fill="rgb(200,200,200)"/><rect x="0" y="440" width="24" height="8" fill="rgb(80,80,80)"/><rect x="32" y="440" width="16" height="8" fill="rgb(80,80,80)"/><rect x="56" y="440" width="8" height="8" fill="rgb(80,80,80)"/><rect x="104" y="440" width="8" height="8" fill="rgb(104,104,104)"/><rect x="112" y="440" width="16" height="8" fill="rgb(80,80,80)"/><rect x="184" y="440" width="8" height="8" fill="rgb(216,216,216)"/><rect x="192" y="440" width="8" height="8" fill="rgb(232,232,232)"/><rect x="232" y="440" width="8" height="8" fill="rgb(216,216,216)"/><rect x="240" y="440" width="8" height="8" fill="rgb(200,200,200)"/><rect x="248" y="440" width="8" height="8" fill="rgb(224,224,224)"/><rect x="8" y="448" width="16" height="8" fill="rgb(80,80,80)"/><rect x="24" y="448" width="8" height="8" fill="rgb(104,104,104)"/><rect x="32" y="448" width="16" height="8" fill="rgb(80,80,80)"/><rect x="56" y="448" width="8" height="8" fill="rgb(80,80,80)"/><rect x="88" y="448" width="8" height="8" fill="rgb(176,176,176)"/><rect x="96" y="448" width="16" height="8" fill="rgb(80,80,80)"/><rect x="112" y="448" width="8" height="8" fill="rgb(160,160,160)"/><rect x="184" y="448" width="16" height="8" fill="rgb(192,192,192)"/><rect x="200" y="448" width="8" height="8" fill="rgb(224,224,224)"/><rect x="216" y="448" width="8" height="8" fill="rgb(232,232,232)"/><rect x="224" y="448" width="8" height="8" fill="rgb(200,200,200)"/><rect x="232" y="448" width="8" height="8" fill="rgb(208,208,208)"/><rect x="16" y="456" width="8" height="8" fill="rgb(144,144,144)"/><rect x="24" y="456" width="16" height="8" fill="rgb(80,80,80)"/><rect x="40" y="456" width="8" height="8" fill="rgb(168,168,168)"/><rect x="56" y="456" width="8" height="8" fill="rgb(80,80,80)"/><rect x="80" y="456" width="16" height="8" fill="rgb(80,80,80)"/><rect x="96" y="456" width="8" height="8" fill="rgb(88,88,88)"/><rect x="184" y="456" width="8" height="8" fill="rgb(200,200,200)"/><rect x="192" y="456" width="8" height="8" fill="rgb(192,192,192)"/><rect x="200" y="456" width="8" height="8" fill="rgb(232,232,232)"/><rect x="208" y="456" width="16" height="8" fill="rgb(200,200,200)"/><rect x="32" y="464" width="56" height="8" fill="rgb(80,80,80)"/><rect x="192" y="464" width="8" height="8" fill="rgb(208,208,208)"/><rect x="200" y="464" width="8" height="8" fill="rgb(200,200,200)"/><rect x="208" y="464" width="8" height="8" fill="rgb(224,224,224)"/><rect x="48" y="472" width="24" height="8" fill="rgb(80,80,80)"/><rect x="176" y="472" width="8" height="8" fill="rgb(224,224,224)"/><rect x="184" y="472" width="8" height="8" fill="rgb(200,200,200)"/><rect x="192" y="472" width="8" height="8" fill="rgb(208,208,208)"/><rect x="64" y="480" width="8" height="8" fill="rgb(208,208,208)"/><rect x="72" y="480" width="8" height="8" fill="rgb(200,200,200)"/><rect x="80" y="480" width="8" height="8" fill="rgb(224,224,224)"/><rect x="168" y="480" width="16" height="8" fill="rgb(200,200,200)"/><rect x="80" y="488" width="16" height="8" fill="rgb(200,200,200)"/><rect x="144" y="488" width="8" height="8" fill="rgb(216,216,216)"/><rect x="152" y="488" width="8" height="8" fill="rgb(208,208,208)"/><rect x="160" y="488" width="8" height="8" fill="rgb(200,200,200)"/><rect x="168" y="488" width="8" height="8" fill="rgb(224,224,224)"/><rect x="88" y="496" width="8" height="8" fill="rgb(232,232,232)"/><rect x="96" y="496" width="8" height="8" fill="rgb(200,200,200)"/><rect x="104" y="496" width="8" height="8" fill="rgb(208,208,208)"/><rect x="136" y="496" width="8" height="8" fill="rgb(200,200,200)"/><rect x="144" y="496" width="8" height="8" fill="rgb(192,192,192)"/><rect x="152" y="496" width="8" height="8" fill="rgb(200,200,200)"/><rect x="104" y="504" width="8" height="8" fill="rgb(216,216,216)"/><rect x="112" y="504" width="8" height="8" fill="rgb(200,200,200)"/><rect x="120" y="504" width="8" height="8" fill="rgb(216,216,216)"/><rect x="128" y="504" width="8" height="8" fill="rgb(200,200,200)"/><rect x="136" y="504" width="8" height="8" fill="rgb(192,192,192)"/><rect x="144" y="504" width="8" height="8" fill="rgb(216,216,216)"/><rect x="120" y="512" width="8" height="8" fill="rgb(208,208,208)"/><rect x="128" y="512" width="8" height="8" fill="rgb(192,192,192)"/><rect x="136" y="512" width="8" height="8" fill="rgb(224,224,224)"/><rect x="136" y="520" width="8" height="8" fill="rgb(200,200,200)"/><rect x="208" y="0" width="65" height="24" fill="#c2c2c2"/><g filter="url(#wo)"><line x1="3.00" y1="212.50" x2="324.50" y2="27.80" stroke="#000" stroke-width="8.0" stroke-linecap="round"/><line x1="3.00" y1="212.50" x2="324.50" y2="27.80" stroke="#d4d4d4" stroke-width="2.20" stroke-linecap="butt"/><line x1="1.60" y1="209.00" x2="1.60" y2="444.00" stroke="#000" stroke-width="3.2" stroke-linecap="butt"/><polyline points="2.00,211.20 40.00,230.60 100.00,265.20 178.70,310.50" fill="none" stroke="#000" stroke-width="3.2" stroke-linejoin="round"/><line x1="1.60" y1="443.00" x2="61.50" y2="476.80" stroke="#000" stroke-width="3.1" stroke-linecap="butt"/><path d="M62.3,476.8 L62.3,404 C62.3,388 72,377.5 100,375.3 L120.6,374.5 L179.7,380.6" fill="none" stroke="#000" stroke-width="3.2"/><line x1="63.30" y1="407.60" x2="118.50" y2="375.20" stroke="#000" stroke-width="2.8" stroke-linecap="butt"/><line x1="179.50" y1="269.00" x2="179.80" y2="380.50" stroke="#000" stroke-width="3.2" stroke-linecap="butt"/><line x1="61.50" y1="476.80" x2="238.40" y2="374.40" stroke="#000" stroke-width="3.0" stroke-linecap="butt"/><line x1="238.20" y1="346.50" x2="238.20" y2="374.60" stroke="#000" stroke-width="3.0" stroke-linecap="butt"/><line x1="179.70" y1="380.20" x2="496.00" y2="197.50" stroke="#000" stroke-width="3.0" stroke-linecap="butt"/><line x1="498.00" y1="130.00" x2="498.00" y2="197.00" stroke="#000" stroke-width="2.6" stroke-linecap="butt"/><line x1="501.30" y1="130.00" x2="501.30" y2="195.00" stroke="#000" stroke-width="2.6" stroke-linecap="butt"/><line x1="180.50" y1="309.50" x2="497.50" y2="129.50" stroke="#000" stroke-width="9.0" stroke-linecap="round"/><line x1="179.69" y1="308.07" x2="496.69" y2="128.07" stroke="#d4d4d4" stroke-width="0.90" stroke-linecap="butt"/><line x1="181.31" y1="310.93" x2="498.31" y2="130.93" stroke="#d4d4d4" stroke-width="0.90" stroke-linecap="butt"/><line x1="263.50" y1="126.50" x2="375.50" y2="192.00" stroke="#000" stroke-width="2.8" stroke-linecap="butt"/><line x1="322.00" y1="93.00" x2="435.00" y2="156.00" stroke="#000" stroke-width="2.8" stroke-linecap="butt"/><line x1="322.00" y1="93.00" x2="263.50" y2="126.50" stroke="#000" stroke-width="2.8" stroke-linecap="butt"/><polyline points="263.50,126.50 261.31,127.79 259.13,129.15 256.95,130.58 254.77,132.07 252.60,133.62 250.44,135.23 248.29,136.90 246.14,138.63 244.01,140.42 241.89,142.26 239.79,144.16 237.70,146.11 235.63,148.12 233.58,150.18 231.55,152.28 229.54,154.44 227.56,156.64 225.60,158.89 223.67,161.18 221.76,163.52 219.88,165.89 218.03,168.30 216.22,170.76 214.43,173.24 212.68,175.76 210.96,178.32 209.28,180.90 207.64,183.51 206.03,186.15 204.47,188.82 202.94,191.51 201.46,194.22 200.02,196.94 198.62,199.69 197.27,202.46 195.96,205.23 194.70,208.02 193.49,210.82 192.32,213.63 191.20,216.44 190.13,219.26 189.12,222.08 188.15,224.90 187.24,227.72 186.37,230.54 185.56,233.35 184.81,236.16 184.10,238.95 183.46,241.74 182.86,244.51 182.32,247.26 181.84,250.00 181.42,252.73 181.05,255.43 180.73,258.10 180.47,260.76 180.27,263.39 180.13,265.99 180.05,268.56 180.02,271.10" fill="none" stroke="#000" stroke-width="2.8" stroke-linejoin="round"/><line x1="323.80" y1="29.00" x2="323.00" y2="93.00" stroke="#000" stroke-width="4.0" stroke-linecap="butt"/><polyline points="179.50,274.00 206.00,289.50" fill="none" stroke="#000" stroke-width="2.6" stroke-linejoin="round"/><path d="M189,289 l0,9 q6,-1 6,-5 q0,-4 -6,-4" fill="none" stroke="#000" stroke-width="2.2"/><g transform="rotate(-33 276.4 69.8)"><ellipse cx="276.4" cy="69.8" rx="6.7" ry="3.7" fill="#fff"/><ellipse cx="276.4" cy="69.8" rx="6.0" ry="3.0" fill="#000"/><line x1="273.10" y1="69.8" x2="279.70" y2="69.8" stroke="#fff" stroke-width="0.9"/></g><g transform="rotate(-33 276.4 97.7)"><ellipse cx="276.4" cy="97.7" rx="6.7" ry="3.7" fill="#fff"/><ellipse cx="276.4" cy="97.7" rx="6.0" ry="3.0" fill="#000"/><line x1="273.10" y1="97.7" x2="279.70" y2="97.7" stroke="#fff" stroke-width="0.9"/></g><g transform="rotate(-33 307 53)"><ellipse cx="307" cy="53" rx="6.7" ry="3.7" fill="#fff"/><ellipse cx="307" cy="53" rx="6.0" ry="3.0" fill="#000"/><line x1="303.70" y1="53" x2="310.30" y2="53" stroke="#fff" stroke-width="0.9"/></g><g transform="rotate(-33 307 81)"><ellipse cx="307" cy="81" rx="6.7" ry="3.7" fill="#fff"/><ellipse cx="307" cy="81" rx="6.0" ry="3.0" fill="#000"/><line x1="303.70" y1="81" x2="310.30" y2="81" stroke="#fff" stroke-width="0.9"/></g><g transform="rotate(-33 344.8 122.9)"><ellipse cx="344.8" cy="122.9" rx="6.7" ry="3.7" fill="#fff"/><ellipse cx="344.8" cy="122.9" rx="6.0" ry="3.0" fill="#000"/><line x1="341.50" y1="122.9" x2="348.10" y2="122.9" stroke="#fff" stroke-width="0.9"/></g><g transform="rotate(-33 486 155.5)"><ellipse cx="486" cy="155.5" rx="6.7" ry="3.7" fill="#fff"/><ellipse cx="486" cy="155.5" rx="6.0" ry="3.0" fill="#000"/><line x1="482.70" y1="155.5" x2="489.30" y2="155.5" stroke="#fff" stroke-width="0.9"/></g><g transform="rotate(-33 454.5 174)"><ellipse cx="454.5" cy="174" rx="6.7" ry="3.7" fill="#fff"/><ellipse cx="454.5" cy="174" rx="6.0" ry="3.0" fill="#000"/><line x1="451.20" y1="174" x2="457.80" y2="174" stroke="#fff" stroke-width="0.9"/></g><g transform="rotate(-33 485.5 183)"><ellipse cx="485.5" cy="183" rx="6.7" ry="3.7" fill="#fff"/><ellipse cx="485.5" cy="183" rx="6.0" ry="3.0" fill="#000"/><line x1="482.20" y1="183" x2="488.80" y2="183" stroke="#fff" stroke-width="0.9"/></g><g transform="rotate(-33 454.5 200.5)"><ellipse cx="454.5" cy="200.5" rx="6.7" ry="3.7" fill="#fff"/><ellipse cx="454.5" cy="200.5" rx="6.0" ry="3.0" fill="#000"/><line x1="451.20" y1="200.5" x2="457.80" y2="200.5" stroke="#fff" stroke-width="0.9"/></g><g transform="rotate(0 17.2 399.3)"><ellipse cx="17.2" cy="399.3" rx="4.0" ry="8.0" fill="#fff"/><ellipse cx="17.2" cy="399.3" rx="3.3" ry="7.3" fill="#000"/><line x1="17.2" y1="395.29" x2="17.2" y2="403.31" stroke="#fff" stroke-width="0.9"/></g><g transform="rotate(0 40.8 413)"><ellipse cx="40.8" cy="413" rx="4.0" ry="8.0" fill="#fff"/><ellipse cx="40.8" cy="413" rx="3.3" ry="7.3" fill="#000"/><line x1="40.8" y1="408.99" x2="40.8" y2="417.01" stroke="#fff" stroke-width="0.9"/></g><g transform="rotate(0 17.2 435.1)"><ellipse cx="17.2" cy="435.1" rx="4.0" ry="8.0" fill="#fff"/><ellipse cx="17.2" cy="435.1" rx="3.3" ry="7.3" fill="#000"/><line x1="17.2" y1="431.09" x2="17.2" y2="439.12" stroke="#fff" stroke-width="0.9"/></g><g transform="rotate(0 40.8 448)"><ellipse cx="40.8" cy="448" rx="4.0" ry="8.0" fill="#fff"/><ellipse cx="40.8" cy="448" rx="3.3" ry="7.3" fill="#000"/><line x1="40.8" y1="443.99" x2="40.8" y2="452.01" stroke="#fff" stroke-width="0.9"/></g></g><g filter="url(#wo)"><polyline points="200.70,26.30 273.10,26.30 307.00,78.00" fill="none" stroke="#8cc32a" stroke-width="2.6" stroke-linejoin="round"/><polygon points="307.00,78.00 296.12,50.46 286.08,57.04" fill="#8cc32a"/><line x1="321.30" y1="92.70" x2="447.90" y2="19.60" stroke="#8cc32a" stroke-width="2.6" stroke-linecap="butt"/><line x1="447.90" y1="19.60" x2="624.50" y2="120.20" stroke="#8cc32a" stroke-width="2.6" stroke-linecap="butt"/><polygon points="447.90,19.60 470.38,38.73 475.82,29.18" fill="#8cc32a"/><polygon points="624.50,120.20 602.02,101.07 596.58,110.62" fill="#8cc32a"/><line x1="498.00" y1="132.20" x2="538.80" y2="108.80" stroke="#8cc32a" stroke-width="2.6" stroke-linecap="butt"/><line x1="495.00" y1="198.60" x2="630.00" y2="120.60" stroke="#8cc32a" stroke-width="2.6" stroke-linecap="butt"/><line x1="517.70" y1="78.70" x2="517.70" y2="264.50" stroke="#8cc32a" stroke-width="2.9" stroke-linecap="butt"/><polygon points="517.70,118.50 523.20,90.50 512.20,90.50" fill="#8cc32a"/><polygon points="517.70,187.00 512.20,215.00 523.20,215.00" fill="#8cc32a"/><line x1="61.40" y1="476.60" x2="141.40" y2="522.30" stroke="#8cc32a" stroke-width="2.6" stroke-linecap="butt"/><line x1="240.20" y1="376.40" x2="317.60" y2="420.80" stroke="#8cc32a" stroke-width="2.6" stroke-linecap="butt"/><line x1="127.00" y1="512.90" x2="298.00" y2="411.50" stroke="#8cc32a" stroke-width="2.6" stroke-linecap="butt"/><polygon points="127.00,512.90 155.61,502.33 150.00,492.87" fill="#8cc32a"/><polygon points="298.00,411.50 269.39,422.07 275.00,431.53" fill="#8cc32a"/><text x="210" y="21.6" font-size="31" textLength="61" lengthAdjust="spacingAndGlyphs" fill="#8cc32a" stroke="#8cc32a" stroke-width="0.6" font-family="Liberation Sans, sans-serif">9x18</text><text x="0" y="0" font-size="28" fill="#8cc32a" stroke="#8cc32a" stroke-width="0.5" font-family="Liberation Sans, sans-serif" id="ta1" transform="translate(529.5,54) rotate(30)">a</text><text x="0" y="0" font-size="29" fill="#8cc32a" stroke="#8cc32a" stroke-width="0.6" font-family="Liberation Sans, sans-serif" id="ta2" transform="translate(191,465.5) rotate(-42)">a</text><path d="M494.3,233.9 H515.5 M494.3,247.4 H515.5 M503.9,233.9 V247.4" stroke="#8cc32a" stroke-width="3.2" fill="none"/></g></svg></body></html>
